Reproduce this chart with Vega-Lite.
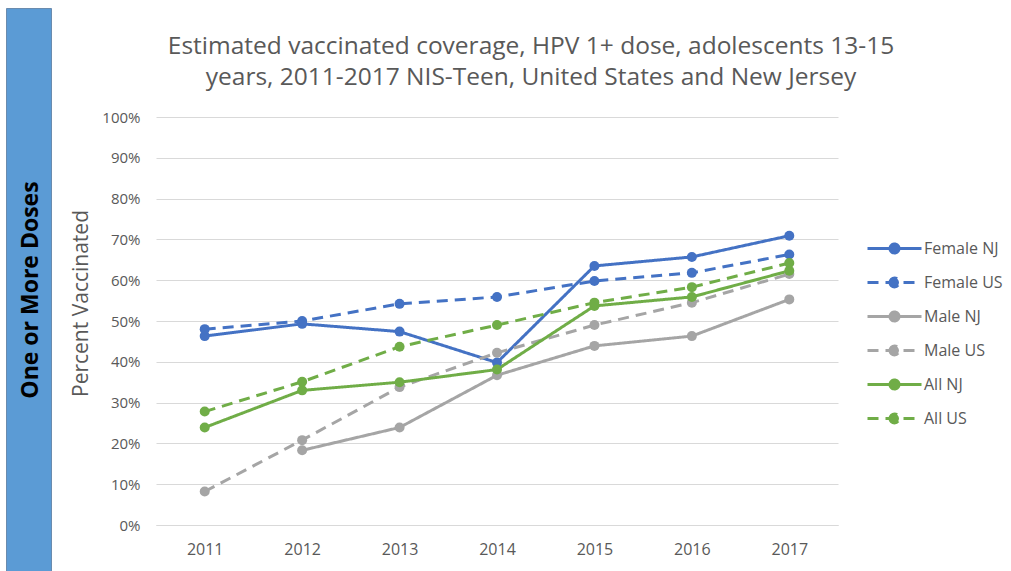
{
  "$schema": "https://vega.github.io/schema/vega-lite/v6.json",
  "background": "white",
  "padding": {"left": 5, "top": 7, "right": 0, "bottom": 0},
  "spacing": 18,
  "resolve": {
    "scale": {"color": "independent", "strokeDash": "independent"},
    "legend": {"color": "independent", "strokeDash": "independent"}
  },
  "config": {
    "font": "Open Sans",
    "view": {"stroke": null}
  },
  "hconcat": [
    {
      "width": 45,
      "height": 564,
      "view": {"fill": "#5B9BD5", "stroke": "#6A8BAE", "strokeWidth": 1},
      "data": {"values": [{"label": "One or More Doses"}]},
      "mark": {
        "type": "text",
        "angle": 270,
        "align": "center",
        "baseline": "middle",
        "font": "Open Sans",
        "fontSize": 23,
        "fontWeight": "bold",
        "color": "#000000",
        "dy": 2
      },
      "encoding": {"text": {"field": "label", "type": "nominal"}}
    },
    {
      "width": 682,
      "height": 564,
      "title": {
        "text": ["Estimated vaccinated coverage, HPV 1+ dose, adolescents 13-15", "years, 2011-2017 NIS-Teen, United States and New Jersey"],
        "font": "Open Sans",
        "fontSize": 24.5,
        "fontWeight": "normal",
        "color": "#595959",
        "lineHeight": 31,
        "anchor": "middle",
        "frame": "group",
        "dx": 34,
        "offset": 0,
        "dy": 82
      },
      "data": {
        "values": [
          {"year": "2011", "series": "Female NJ", "pct": 46.3},
          {"year": "2012", "series": "Female NJ", "pct": 49.3},
          {"year": "2013", "series": "Female NJ", "pct": 47.4},
          {"year": "2014", "series": "Female NJ", "pct": 39.8},
          {"year": "2015", "series": "Female NJ", "pct": 63.5},
          {"year": "2016", "series": "Female NJ", "pct": 65.7},
          {"year": "2017", "series": "Female NJ", "pct": 70.9},
          {"year": "2011", "series": "Female US", "pct": 48.0},
          {"year": "2012", "series": "Female US", "pct": 50.0},
          {"year": "2013", "series": "Female US", "pct": 54.2},
          {"year": "2014", "series": "Female US", "pct": 55.9},
          {"year": "2015", "series": "Female US", "pct": 59.8},
          {"year": "2016", "series": "Female US", "pct": 61.8},
          {"year": "2017", "series": "Female US", "pct": 66.3},
          {"year": "2012", "series": "Male NJ", "pct": 18.3},
          {"year": "2013", "series": "Male NJ", "pct": 23.9},
          {"year": "2014", "series": "Male NJ", "pct": 36.7},
          {"year": "2015", "series": "Male NJ", "pct": 43.9},
          {"year": "2016", "series": "Male NJ", "pct": 46.3},
          {"year": "2017", "series": "Male NJ", "pct": 55.3},
          {"year": "2011", "series": "Male US", "pct": 8.2},
          {"year": "2012", "series": "Male US", "pct": 20.8},
          {"year": "2013", "series": "Male US", "pct": 33.8},
          {"year": "2014", "series": "Male US", "pct": 42.2},
          {"year": "2015", "series": "Male US", "pct": 49.0},
          {"year": "2016", "series": "Male US", "pct": 54.5},
          {"year": "2017", "series": "Male US", "pct": 61.5},
          {"year": "2011", "series": "All NJ", "pct": 23.9},
          {"year": "2012", "series": "All NJ", "pct": 33.0},
          {"year": "2013", "series": "All NJ", "pct": 35.0},
          {"year": "2014", "series": "All NJ", "pct": 38.1},
          {"year": "2015", "series": "All NJ", "pct": 53.7},
          {"year": "2016", "series": "All NJ", "pct": 55.9},
          {"year": "2017", "series": "All NJ", "pct": 62.3},
          {"year": "2011", "series": "All US", "pct": 27.8},
          {"year": "2012", "series": "All US", "pct": 35.1},
          {"year": "2013", "series": "All US", "pct": 43.7},
          {"year": "2014", "series": "All US", "pct": 49.0},
          {"year": "2015", "series": "All US", "pct": 54.5},
          {"year": "2016", "series": "All US", "pct": 58.3},
          {"year": "2017", "series": "All US", "pct": 64.2}
        ]
      },
      "encoding": {
        "x": {
          "field": "year",
          "type": "ordinal",
          "scale": {"padding": 0.5},
          "axis": {
            "title": null,
            "offset": -47,
            "labelAngle": 0,
            "labelFontSize": 16,
            "labelColor": "#595959",
            "labelPadding": 16,
            "ticks": false,
            "grid": false,
            "domain": true,
            "domainColor": "#D9D9D9",
            "domainWidth": 1
          }
        },
        "y": {
          "field": "pct",
          "type": "quantitative",
          "scale": {"domain": [0, 100], "nice": false, "range": [517, 109]},
          "axis": {
            "title": "Percent Vaccinated",
            "titleFontSize": 21,
            "titleFontWeight": "normal",
            "titleColor": "#595959",
            "titlePadding": 10,
            "titleY": 295,
            "values": [0, 10, 20, 30, 40, 50, 60, 70, 80, 90, 100],
            "labelExpr": "datum.value + '%'",
            "labelFontSize": 15,
            "labelColor": "#595959",
            "labelPadding": 16,
            "ticks": false,
            "domain": false,
            "grid": true,
            "gridColor": "#D9D9D9",
            "gridWidth": 1
          }
        },
        "color": {
          "field": "series",
          "type": "nominal",
          "scale": {
            "domain": ["Female NJ", "Female US", "Male NJ", "Male US", "All NJ", "All US"],
            "range": ["#4472C4", "#4472C4", "#A5A5A5", "#A5A5A5", "#70AD47", "#70AD47"]
          },
          "legend": {
            "title": null,
            "orient": "none",
            "legendX": 728,
            "legendY": 230,
            "padding": 0,
            "symbolType": "M-3,0L3,0M-0.5,0A0.5,0.5,0,1,0,0.5,0A0.5,0.5,0,1,0,-0.5,0Z",
            "symbolSize": 324,
            "symbolStrokeWidth": 3,
            "labelOffset": 19,
            "labelFontSize": 16,
            "labelColor": "#595959",
            "rowPadding": 13,
            "encode": {
              "symbols": {
                "update": {
                  "fill": {"signal": "indexof(datum.value,'Female')==0 ? '#4472C4' : indexof(datum.value,'Male')==0 ? '#A5A5A5' : '#70AD47'"},
                  "stroke": {"signal": "indexof(datum.value,'Female')==0 ? '#4472C4' : indexof(datum.value,'Male')==0 ? '#A5A5A5' : '#70AD47'"},
                  "strokeDash": {"signal": "indexof(datum.value,'US') > 0 ? [11,7] : [1,0]"},
                  "opacity": {"value": 1}
                }
              }
            }
          }
        }
      },
      "layer": [
        {
          "mark": {"type": "line", "strokeWidth": 3},
          "encoding": {
            "strokeDash": {
              "field": "series",
              "type": "nominal",
              "scale": {
                "domain": ["Female NJ", "Female US", "Male NJ", "Male US", "All NJ", "All US"],
                "range": [[1, 0], [11, 7], [1, 0], [11, 7], [1, 0], [11, 7]]
              },
              "legend": null
            }
          }
        },
        {
          "mark": {"type": "point", "filled": true, "size": 100, "opacity": 1}
        }
      ]
    }
  ]
}
